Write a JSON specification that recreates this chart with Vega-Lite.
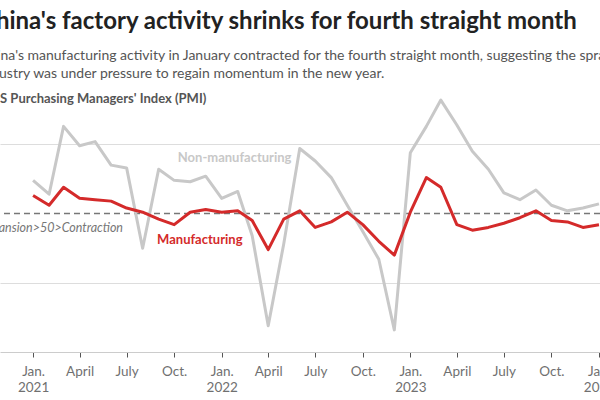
{
  "$schema": "https://vega.github.io/schema/vega-lite/v6.json",
  "width": 600,
  "height": 263,
  "autosize": {"type": "none"},
  "padding": {"left": 0, "right": 0, "top": 89, "bottom": 48},
  "background": "white",
  "config": {"view": {"stroke": null}},
  "title": {
    "text": "China's factory activity shrinks for fourth straight month",
    "subtitle": ["China's manufacturing activity in January contracted for the fourth straight month, suggesting the sprawling", "industry was under pressure to regain momentum in the new year."],
    "anchor": "start",
    "frame": "group",
    "dx": -20,
    "offset": 8,
    "font": "Lato",
    "fontSize": 24,
    "fontWeight": "bold",
    "color": "#222222",
    "subtitleFont": "Lato",
    "subtitleFontSize": 14,
    "subtitleColor": "#555555",
    "subtitleLineHeight": 18,
    "subtitlePadding": 15
  },
  "datasets": {
    "pmi": [
      {"date": "2021-01-01", "series": "Manufacturing", "value": 51.3},
      {"date": "2021-02-01", "series": "Manufacturing", "value": 50.6},
      {"date": "2021-03-01", "series": "Manufacturing", "value": 51.9},
      {"date": "2021-04-01", "series": "Manufacturing", "value": 51.1},
      {"date": "2021-05-01", "series": "Manufacturing", "value": 51.0},
      {"date": "2021-06-01", "series": "Manufacturing", "value": 50.9},
      {"date": "2021-07-01", "series": "Manufacturing", "value": 50.4},
      {"date": "2021-08-01", "series": "Manufacturing", "value": 50.1},
      {"date": "2021-09-01", "series": "Manufacturing", "value": 49.6},
      {"date": "2021-10-01", "series": "Manufacturing", "value": 49.2},
      {"date": "2021-11-01", "series": "Manufacturing", "value": 50.1},
      {"date": "2021-12-01", "series": "Manufacturing", "value": 50.3},
      {"date": "2022-01-01", "series": "Manufacturing", "value": 50.1},
      {"date": "2022-02-01", "series": "Manufacturing", "value": 50.2},
      {"date": "2022-03-01", "series": "Manufacturing", "value": 49.5},
      {"date": "2022-04-01", "series": "Manufacturing", "value": 47.4},
      {"date": "2022-05-01", "series": "Manufacturing", "value": 49.6},
      {"date": "2022-06-01", "series": "Manufacturing", "value": 50.2},
      {"date": "2022-07-01", "series": "Manufacturing", "value": 49.0},
      {"date": "2022-08-01", "series": "Manufacturing", "value": 49.4},
      {"date": "2022-09-01", "series": "Manufacturing", "value": 50.1},
      {"date": "2022-10-01", "series": "Manufacturing", "value": 49.2},
      {"date": "2022-11-01", "series": "Manufacturing", "value": 48.0},
      {"date": "2022-12-01", "series": "Manufacturing", "value": 47.0},
      {"date": "2023-01-01", "series": "Manufacturing", "value": 50.1},
      {"date": "2023-02-01", "series": "Manufacturing", "value": 52.6},
      {"date": "2023-03-01", "series": "Manufacturing", "value": 51.9},
      {"date": "2023-04-01", "series": "Manufacturing", "value": 49.2},
      {"date": "2023-05-01", "series": "Manufacturing", "value": 48.8},
      {"date": "2023-06-01", "series": "Manufacturing", "value": 49.0},
      {"date": "2023-07-01", "series": "Manufacturing", "value": 49.3},
      {"date": "2023-08-01", "series": "Manufacturing", "value": 49.7},
      {"date": "2023-09-01", "series": "Manufacturing", "value": 50.2},
      {"date": "2023-10-01", "series": "Manufacturing", "value": 49.5},
      {"date": "2023-11-01", "series": "Manufacturing", "value": 49.4},
      {"date": "2023-12-01", "series": "Manufacturing", "value": 49.0},
      {"date": "2024-01-01", "series": "Manufacturing", "value": 49.2},
      {"date": "2021-01-01", "series": "Non-manufacturing", "value": 52.4},
      {"date": "2021-02-01", "series": "Non-manufacturing", "value": 51.4},
      {"date": "2021-03-01", "series": "Non-manufacturing", "value": 56.3},
      {"date": "2021-04-01", "series": "Non-manufacturing", "value": 54.9},
      {"date": "2021-05-01", "series": "Non-manufacturing", "value": 55.2},
      {"date": "2021-06-01", "series": "Non-manufacturing", "value": 53.5},
      {"date": "2021-07-01", "series": "Non-manufacturing", "value": 53.3},
      {"date": "2021-08-01", "series": "Non-manufacturing", "value": 47.5},
      {"date": "2021-09-01", "series": "Non-manufacturing", "value": 53.2},
      {"date": "2021-10-01", "series": "Non-manufacturing", "value": 52.4},
      {"date": "2021-11-01", "series": "Non-manufacturing", "value": 52.3},
      {"date": "2021-12-01", "series": "Non-manufacturing", "value": 52.7},
      {"date": "2022-01-01", "series": "Non-manufacturing", "value": 51.1},
      {"date": "2022-02-01", "series": "Non-manufacturing", "value": 51.6},
      {"date": "2022-03-01", "series": "Non-manufacturing", "value": 48.4},
      {"date": "2022-04-01", "series": "Non-manufacturing", "value": 41.9},
      {"date": "2022-05-01", "series": "Non-manufacturing", "value": 47.8},
      {"date": "2022-06-01", "series": "Non-manufacturing", "value": 54.7},
      {"date": "2022-07-01", "series": "Non-manufacturing", "value": 53.8},
      {"date": "2022-08-01", "series": "Non-manufacturing", "value": 52.6},
      {"date": "2022-09-01", "series": "Non-manufacturing", "value": 50.6},
      {"date": "2022-10-01", "series": "Non-manufacturing", "value": 48.7},
      {"date": "2022-11-01", "series": "Non-manufacturing", "value": 46.7},
      {"date": "2022-12-01", "series": "Non-manufacturing", "value": 41.6},
      {"date": "2023-01-01", "series": "Non-manufacturing", "value": 54.4},
      {"date": "2023-02-01", "series": "Non-manufacturing", "value": 56.3},
      {"date": "2023-03-01", "series": "Non-manufacturing", "value": 58.2},
      {"date": "2023-04-01", "series": "Non-manufacturing", "value": 56.4},
      {"date": "2023-05-01", "series": "Non-manufacturing", "value": 54.5},
      {"date": "2023-06-01", "series": "Non-manufacturing", "value": 53.2},
      {"date": "2023-07-01", "series": "Non-manufacturing", "value": 51.5},
      {"date": "2023-08-01", "series": "Non-manufacturing", "value": 51.0},
      {"date": "2023-09-01", "series": "Non-manufacturing", "value": 51.7},
      {"date": "2023-10-01", "series": "Non-manufacturing", "value": 50.6},
      {"date": "2023-11-01", "series": "Non-manufacturing", "value": 50.2},
      {"date": "2023-12-01", "series": "Non-manufacturing", "value": 50.4},
      {"date": "2024-01-01", "series": "Non-manufacturing", "value": 50.7}
    ],
    "notes": [
      {"date": "2021-10-08", "value": 54.0, "label": "Non-manufacturing", "kind": "non"},
      {"date": "2021-08-29", "value": 48.1, "label": "Manufacturing", "kind": "mfg"},
      {"date": "2021-06-24", "value": 48.95, "label": "Expansion>50>Contraction", "kind": "ref"}
    ],
    "ref": [{"value": 50}]
  },
  "layer": [
    {
      "data": {"name": "ref"},
      "mark": {"type": "rule", "color": "#777777", "strokeWidth": 1.5, "strokeDash": [6, 4]},
      "encoding": {
        "y": {
          "field": "value",
          "type": "quantitative",
          "scale": {"domain": [40, 59], "nice": false, "zero": false},
          "axis": {
            "grid": true,
            "values": [45, 55],
            "gridColor": "#dddddd",
            "gridWidth": 1,
            "domain": false,
            "ticks": false,
            "labels": false,
            "title": "NBS Purchasing Managers' Index (PMI)",
            "titleAngle": 0,
            "titleAlign": "left",
            "titleBaseline": "middle",
            "titleX": -19,
            "titleY": 9,
            "titleFont": "Lato",
            "titleFontSize": 13,
            "titleFontWeight": "bold",
            "titleColor": "#555555"
          }
        }
      }
    },
    {
      "data": {"name": "pmi"},
      "transform": [{"filter": "datum.series == 'Non-manufacturing'"}],
      "mark": {"type": "line", "color": "#c8c8c8", "strokeWidth": 3, "strokeJoin": "round"},
      "encoding": {
        "x": {
          "field": "date",
          "type": "temporal",
          "scale": {
            "type": "utc",
            "domain": [
              {"year": 2020, "month": 10, "date": 29, "utc": true},
              {"year": 2024, "month": 1, "date": 3, "utc": true}
            ],
            "nice": false
          },
          "axis": {
            "tickCount": {"interval": "month", "step": 3},
            "labelExpr": "utcmonth(datum.value) == 0 ? ['Jan.', '' + utcyear(datum.value)] : utcmonth(datum.value) == 3 ? 'April' : utcmonth(datum.value) == 6 ? 'July' : 'Oct.'",
            "grid": false,
            "domainColor": "#cccccc",
            "tickColor": "#555555",
            "tickSize": 5,
            "labelFont": "Lato",
            "labelFontSize": 13.5,
            "labelColor": "#707070",
            "labelPadding": 7,
            "labelLineHeight": 16,
            "labelFlush": false,
            "labelOverlap": false,
            "title": null
          }
        },
        "y": {"field": "value", "type": "quantitative"}
      }
    },
    {
      "data": {"name": "pmi"},
      "transform": [{"filter": "datum.series == 'Manufacturing'"}],
      "mark": {"type": "line", "color": "#d42a2a", "strokeWidth": 3, "strokeJoin": "round"},
      "encoding": {
        "x": {"field": "date", "type": "temporal"},
        "y": {"field": "value", "type": "quantitative"}
      }
    },
    {
      "data": {"name": "pmi"},
      "transform": [{"filter": "datum.series == 'Manufacturing' && datum.date == '2024-01-01'"}],
      "mark": {"type": "point", "filled": true, "color": "#d42a2a", "size": 55, "opacity": 1},
      "encoding": {
        "x": {"field": "date", "type": "temporal"},
        "y": {"field": "value", "type": "quantitative"}
      }
    },
    {
      "data": {"name": "notes"},
      "transform": [{"filter": "datum.kind == 'non'"}],
      "mark": {"type": "text", "align": "left", "baseline": "middle", "font": "Lato", "fontSize": 13, "fontWeight": "bold", "color": "#c8c8c8"},
      "encoding": {
        "x": {"field": "date", "type": "temporal"},
        "y": {"field": "value", "type": "quantitative"},
        "text": {"field": "label"}
      }
    },
    {
      "data": {"name": "notes"},
      "transform": [{"filter": "datum.kind == 'mfg'"}],
      "mark": {"type": "text", "align": "left", "baseline": "middle", "font": "Lato", "fontSize": 13, "fontWeight": "bold", "color": "#d42a2a"},
      "encoding": {
        "x": {"field": "date", "type": "temporal"},
        "y": {"field": "value", "type": "quantitative"},
        "text": {"field": "label"}
      }
    },
    {
      "data": {"name": "notes"},
      "transform": [{"filter": "datum.kind == 'ref'"}],
      "mark": {"type": "text", "align": "right", "baseline": "middle", "font": "Lato", "fontSize": 12.5, "fontStyle": "italic", "color": "#777777"},
      "encoding": {
        "x": {"field": "date", "type": "temporal"},
        "y": {"field": "value", "type": "quantitative"},
        "text": {"field": "label"}
      }
    }
  ]
}
